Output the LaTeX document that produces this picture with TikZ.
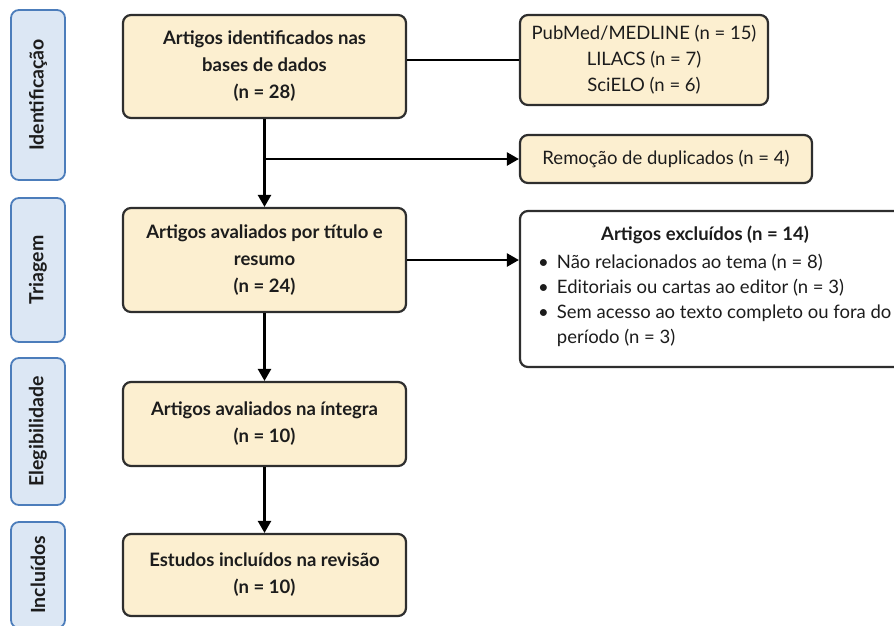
\documentclass[tikz,border=0pt]{standalone}
\usepackage{fontspec}
\setmainfont{Lato}
\usetikzlibrary{arrows.meta}
\definecolor{boxfill}{HTML}{FCEFD0}
\definecolor{boxline}{HTML}{2E2E2E}
\definecolor{labfill}{HTML}{DCE7F4}
\definecolor{labline}{HTML}{4C7DBB}
\definecolor{txt}{HTML}{1C1C1C}
\tikzset{
  mainbox/.style={draw=boxline, fill=boxfill, line width=2.2pt, rounded corners=8pt,
    minimum width=283pt, align=center, text=txt, font=\fontsize{18.5}{27}\selectfont\bfseries, inner sep=0pt},
  sidebox/.style={draw=boxline, fill=boxfill, line width=2.2pt, rounded corners=8pt,
    align=center, text=txt, font=\fontsize{18.5}{26}\selectfont, inner sep=0pt},
  stagelab/.style={draw=labline, fill=labfill, line width=1.8pt, rounded corners=8pt,
    rotate=90, minimum height=54pt, text=txt, font=\fontsize{19.5}{22}\selectfont\bfseries, inner sep=0pt},
  conn/.style={line width=2.4pt, draw=black},
  arr/.style={conn, -{Triangle[length=12pt,width=13pt]}}
}
\begin{document}
\begin{tikzpicture}[x=1pt,y=-1pt]
\useasboundingbox (0,0) rectangle (894,625);
\clip (0,0) rectangle (894,625);
% stage labels
\node[stagelab, minimum width=170pt] (l1) at (38,95) {Identificação};
\node[stagelab, minimum width=144pt] (l2) at (38,270) {Triagem};
\node[stagelab, minimum width=147pt] (l3) at (38,431.5) {Elegibilidade};
\node[stagelab, minimum width=106pt] (l4) at (38,575) {Incluídos};
% main column
\node[mainbox, minimum height=103pt] (b1) at (264.5,66.5) {Artigos identificados nas\\bases de dados\\(n = 28)};
\node[mainbox, minimum height=104pt] (b2) at (264.5,260) {Artigos avaliados por título e\\resumo\\(n = 24)};
\node[mainbox, minimum height=84pt] (b3) at (264.5,424) {Artigos avaliados na íntegra\\(n = 10)};
\node[mainbox, minimum height=82pt] (b4) at (264.5,575) {Estudos incluídos na revisão\\(n = 10)};
% side boxes
\node[sidebox, minimum width=248pt, minimum height=90pt] (p) at (644,60) {PubMed/MEDLINE (n = 15)\\LILACS (n = 7)\\SciELO (n = 6)};
\node[sidebox, minimum width=292pt, minimum height=48pt] (r) at (666,159) {Remoção de duplicados (n = 4)};
\node[draw=boxline, fill=white, line width=2.2pt, rounded corners=8pt, minimum width=390pt, minimum height=156pt, inner sep=0pt] (e) at (715,289) {};
\node[text=txt, font=\fontsize{18.5}{22}\selectfont\bfseries] (et) at (705,235) {Artigos excluídos (n = 14)};
\node[text=txt, font=\fontsize{18.5}{25.3}\selectfont, anchor=north west, inner sep=0pt, align=left] (el) at (538,253.5)
  {\textbullet\hspace{8pt}Não relacionados ao tema (n = 8)\\
   \textbullet\hspace{8pt}Editoriais ou cartas ao editor (n = 3)\\
   \textbullet\hspace{8pt}Sem acesso ao texto completo ou fora do\\
   \phantom{\textbullet}\hspace{8pt}período (n = 3)};
% connectors
\coordinate (j1) at (b1.south |- r.west);
\draw[conn] (b1.east |- p.west) -- (p.west);
\draw[arr] (b1.south) -- (b2.north);
\draw[arr] (j1) -- (r.west);
\draw[arr] (b2.east) -- (b2.east -| e.west);
\draw[arr] (b2.south) -- (b3.north);
\draw[arr] (b3.south) -- (b4.north);
\end{tikzpicture}
\end{document}
